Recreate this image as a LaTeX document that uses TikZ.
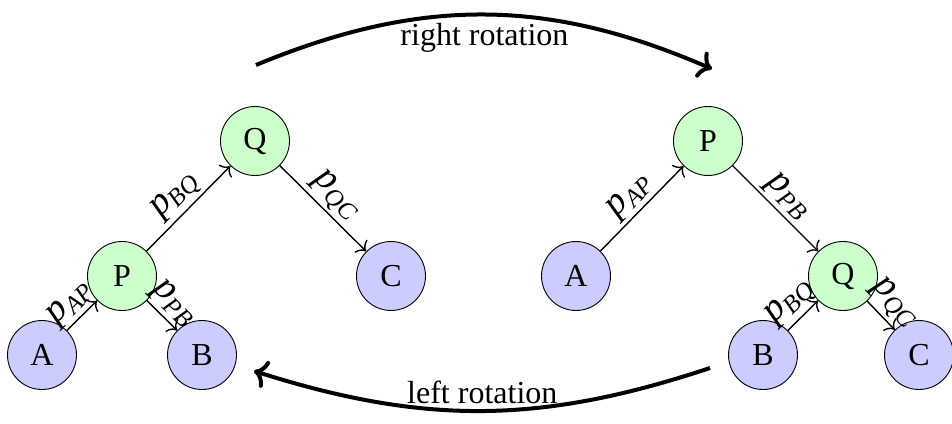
\documentclass[tikz,border=0pt]{standalone}
\usepackage{fontspec}
\setmainfont{Liberation Serif}
\usetikzlibrary{arrows.meta}
\newcommand{\elab}[2]{{\fontsize{38}{40}\selectfont\textit{#1}}\raisebox{-0.2em}{\fontsize{25}{27}\selectfont\textit{#2}}}
\begin{document}
\begin{tikzpicture}[x=1pt,y=-1pt,
  font=\fontsize{32}{38}\selectfont,
  treenode/.style={circle, draw=black, line width=0.9pt, minimum size=69pt, inner sep=0pt},
  innernode/.style={treenode, fill=green!20},
  leafnode/.style={treenode, fill=blue!20},
  edgeline/.style={line width=1.4pt, -{To[length=8pt,width=18pt]}},
  elabel/.style={midway, sloped, above, inner sep=3pt},
  rotarrow/.style={line width=4pt, -{To[length=13pt,width=28pt]}},
]
\useasboundingbox (0,0) rectangle (952,423);

% left tree
\node[innernode] (Q1) at (255,141) {Q};
\node[innernode] (P1) at (122,276) {P};
\node[leafnode] (C1) at (391,276) {C};
\node[leafnode] (A1) at (42,355) {A};
\node[leafnode] (B1) at (202,355) {B};

\draw[edgeline] (A1) -- node[elabel]{\elab{p}{AP}} (P1);
\draw[edgeline] (P1) -- node[elabel]{\elab{p}{PB}} (B1);
\draw[edgeline] (P1) -- node[elabel]{\elab{p}{BQ}} (Q1);
\draw[edgeline] (Q1) -- node[elabel]{\elab{p}{QC}} (C1);

% right tree
\node[innernode] (P2) at (708,141) {P};
\node[leafnode] (A2) at (576,276) {A};
\node[innernode] (Q2) at (843,276) {Q};
\node[leafnode] (B2) at (763,355) {B};
\node[leafnode] (C2) at (919,355) {C};

\draw[edgeline] (A2) -- node[elabel]{\elab{p}{AP}} (P2);
\draw[edgeline] (P2) -- node[elabel]{\elab{p}{PB}} (Q2);
\draw[edgeline] (B2) -- node[elabel]{\elab{p}{BQ}} (Q2);
\draw[edgeline] (Q2) -- node[elabel]{\elab{p}{QC}} (C2);

% rotation arrows
\coordinate (r1) at (256,65);
\coordinate (r2) at (712,69);
\coordinate (l1) at (710,368);
\coordinate (l2) at (254,371);
\draw[rotarrow] (r1) to[bend left=23] node[midway, anchor=base, yshift=-31pt]{right rotation} (r2);
\draw[rotarrow] (l1) to[bend left=18] node[midway, anchor=base, yshift=7pt]{left rotation} (l2);
\end{tikzpicture}
\end{document}
